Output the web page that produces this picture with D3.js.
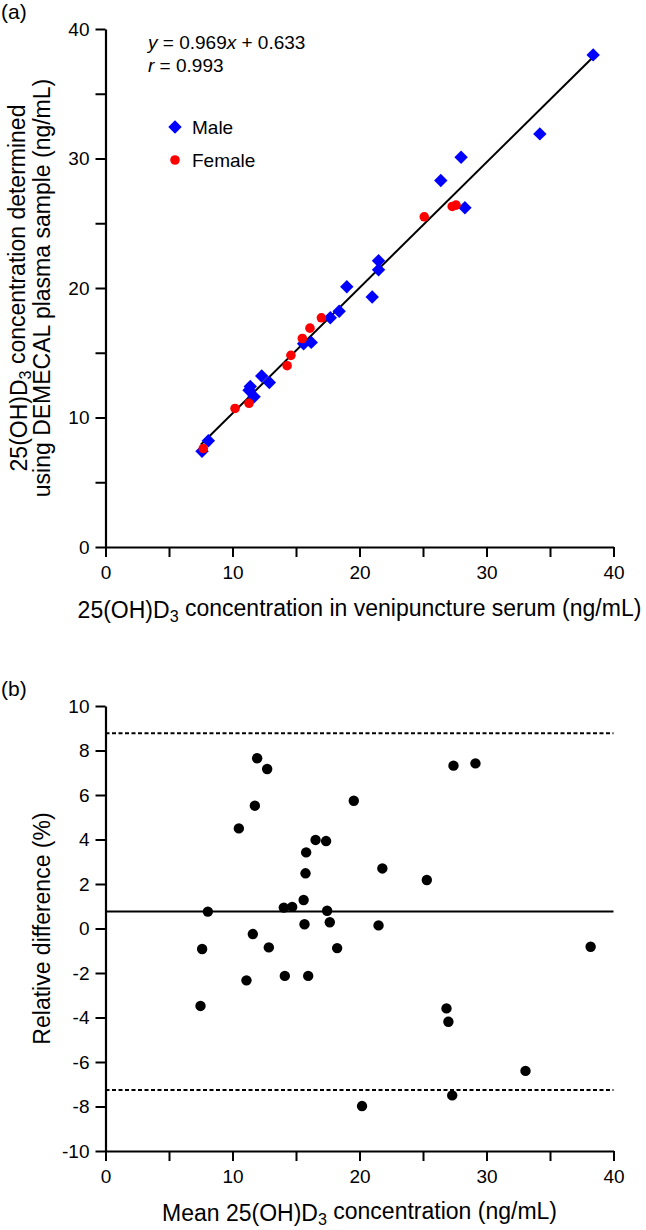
<!DOCTYPE html>
<html>
<head>
<meta charset="utf-8">
<script src="https://cdn.jsdelivr.net/npm/d3@7"></script>
<style>
  html, body { margin: 0; padding: 0; background: #fff; }
  svg { display: block; }
  text { font-family: "Liberation Sans", Arial, Helvetica, sans-serif; fill: #000; }
</style>
</head>
<body>
<svg id="chart" width="646" height="1230"></svg>
<script>
// ---------- Panel (a) data ----------
const maleX   = [38.4, 34.2, 28.0, 26.4, 28.3, 21.5, 21.5, 19.0, 21.0, 18.4, 17.7, 16.2, 15.6, 12.9, 12.3, 11.4, 11.3, 11.7, 8.1, 7.6];
const maleY   = [38.0, 31.9, 30.1, 28.3, 26.2, 22.1, 21.4, 20.1, 19.3, 18.2, 17.7, 15.8, 15.7, 12.7, 13.2, 12.4, 12.1, 11.6, 8.2, 7.4];
const femaleX = [25.1, 27.3, 27.6, 17.0, 16.1, 15.5, 14.6, 14.3, 11.3, 10.2, 7.7];
const femaleY = [25.5, 26.3, 26.4, 17.7, 16.9, 16.1, 14.8, 14.0, 11.1, 10.7, 7.6];
const regSlope = 0.969;
const regIntercept = 0.633;
const regRange = [7.5, 38.4];
const corrR = 0.993;
const axisTicksA = [0, 5, 10, 15, 20, 25, 30, 35, 40];
const axisLabelsA = [0, 10, 20, 30, 40];

// ---------- Panel (b) data ----------
const meanConc = [11.94, 12.73, 19.55, 27.4, 29.13, 11.76, 10.5, 16.54, 17.37, 15.8, 15.75, 21.8, 15.6, 14.04, 14.7, 8.06, 17.45, 15.67, 17.66, 21.5, 11.6, 7.61, 12.86, 18.24, 11.1, 14.12, 15.96, 7.48, 25.3, 38.2, 26.85, 27.0, 20.2, 27.3, 33.07];
const relDiff  = [7.65, 7.17, 5.74, 7.32, 7.42, 5.52, 4.5, 3.98, 3.93, 3.42, 2.48, 2.7, 1.28, 0.94, 0.97, 0.76, 0.8, 0.19, 0.28, 0.14, -0.25, -0.92, -0.85, -0.88, -2.33, -2.13, -2.13, -3.48, 2.18, -0.82, -3.59, -4.19, -7.98, -7.5, -6.4];
const meanDiff = 0.76;
const upperLoA = 8.77;
const lowerLoA = -7.26;
const yTicksB = [-10, -8, -6, -4, -2, 0, 2, 4, 6, 8, 10];

const svg = d3.select("#chart");

function styleAxis(g) {
  g.select(".domain").attr("stroke", "#000").attr("stroke-width", 2.2);
  g.selectAll(".tick line").attr("stroke", "#000").attr("stroke-width", 2);
  g.selectAll(".tick text").attr("font-size", 19).attr("fill", "#000")
    .attr("font-family", '"Liberation Sans", Arial, sans-serif');
}

// ================= Panel (a) =================
const xA = d3.scaleLinear().domain([0, 40]).range([105.5, 613.5]);
const yA = d3.scaleLinear().domain([0, 40]).range([547, 29]);

svg.append("g").attr("transform", `translate(0,${yA(0)})`)
  .call(d3.axisBottom(xA).tickValues(axisTicksA).tickSize(10).tickSizeOuter(0).tickPadding(9)
    .tickFormat(d => axisLabelsA.includes(d) ? String(d) : ""))
  .call(styleAxis);
svg.append("g").attr("transform", `translate(${xA(0)},0)`)
  .call(d3.axisLeft(yA).tickValues(axisTicksA).tickSize(10).tickSizeOuter(0).tickPadding(6)
    .tickFormat(d => axisLabelsA.includes(d) ? String(d) : ""))
  .call(styleAxis);

// regression line
const lineA = d3.line().x(d => xA(d)).y(d => yA(regSlope * d + regIntercept));
svg.append("path").attr("d", lineA(regRange)).attr("fill", "none")
  .attr("stroke", "#000").attr("stroke-width", 2);

const diamond = d3.symbol().type(d3.symbolSquare).size(90);
const circ = d3.symbol().type(d3.symbolCircle).size(72);

svg.append("g").selectAll("path").data(maleX.map((x, i) => [x, maleY[i]]))
  .join("path").attr("d", diamond)
  .attr("transform", d => `translate(${xA(d[0])},${yA(d[1])}) rotate(45)`)
  .attr("fill", "#0000ff");
svg.append("g").selectAll("path").data(femaleX.map((x, i) => [x, femaleY[i]]))
  .join("path").attr("d", circ)
  .attr("transform", d => `translate(${xA(d[0])},${yA(d[1])})`)
  .attr("fill", "#ff0000");

// equation
const eq = svg.append("text").attr("x", 148).attr("y", 49).attr("font-size", 19);
eq.append("tspan").attr("font-style", "italic").text("y");
eq.append("tspan").text(" = " + regSlope.toFixed(3));
eq.append("tspan").attr("font-style", "italic").text("x");
eq.append("tspan").text(" + " + regIntercept.toFixed(3));
const rt = svg.append("text").attr("x", 148).attr("y", 71.5).attr("font-size", 19);
rt.append("tspan").attr("font-style", "italic").text("r");
rt.append("tspan").text(" = " + corrR.toFixed(3));

// legend
svg.append("path").attr("d", diamond).attr("transform", "translate(175,127) rotate(45)").attr("fill", "#0000ff");
svg.append("text").attr("x", 192).attr("y", 134).attr("font-size", 19).text("Male");
svg.append("path").attr("d", circ).attr("transform", "translate(175,160)").attr("fill", "#ff0000");
svg.append("text").attr("x", 192).attr("y", 167).attr("font-size", 19).text("Female");

// panel label
svg.append("text").attr("x", 1).attr("y", 19).attr("font-size", 21).text("(a)");

// x title (a)
function withSub(sel, before, sub, after) {
  sel.append("tspan").text(before);
  sel.append("tspan").attr("font-size", "70%").attr("dy", "0.25em").text(sub);
  sel.append("tspan").attr("dy", "-0.25em").text(after);
}
const xtA = svg.append("text").attr("x", (xA(0) + xA(40)) / 2).attr("y", 618)
  .attr("text-anchor", "middle").attr("font-size", 23);
withSub(xtA, "25(OH)D", "3", " concentration in venipuncture serum (ng/mL)");

// y title (a), two lines
const cyA = (yA(0) + yA(40)) / 2;
const yt1 = svg.append("text").attr("transform", `translate(27,${cyA}) rotate(-90)`)
  .attr("text-anchor", "middle").attr("font-size", 23);
withSub(yt1, "25(OH)D", "3", " concentration determined");
svg.append("text").attr("transform", `translate(50,${cyA}) rotate(-90)`)
  .attr("text-anchor", "middle").attr("font-size", 23)
  .text("using DEMECAL plasma sample (ng/mL)");

// ================= Panel (b) =================
const xB = d3.scaleLinear().domain([0, 40]).range([105.5, 613.5]);
const yB = d3.scaleLinear().domain([-10, 10]).range([1151, 706]);

svg.append("g").attr("transform", `translate(0,${yB(-10)})`)
  .call(d3.axisBottom(xB).tickValues(axisTicksA).tickSize(10).tickSizeOuter(0).tickPadding(9)
    .tickFormat(d => axisLabelsA.includes(d) ? String(d) : ""))
  .call(styleAxis);
svg.append("g").attr("transform", `translate(${xB(0)},0)`)
  .call(d3.axisLeft(yB).tickValues(yTicksB).tickSize(10).tickSizeOuter(0).tickPadding(6)
    .tickFormat(d => String(d)))
  .call(styleAxis);

// reference lines
[[upperLoA, "4,2.5"], [lowerLoA, "4,2.5"], [meanDiff, null]].forEach(([v, dash]) => {
  const l = svg.append("line").attr("x1", xB(0)).attr("x2", xB(40))
    .attr("y1", yB(v)).attr("y2", yB(v)).attr("stroke", "#000").attr("stroke-width", 2);
  if (dash) l.attr("stroke-dasharray", dash);
});

svg.append("g").selectAll("circle").data(meanConc.map((x, i) => [x, relDiff[i]]))
  .join("circle").attr("cx", d => xB(d[0])).attr("cy", d => yB(d[1])).attr("r", 5.2)
  .attr("fill", "#000");

svg.append("text").attr("x", 1).attr("y", 696).attr("font-size", 21).text("(b)");

const xtB = svg.append("text").attr("x", (xB(0) + xB(40)) / 2).attr("y", 1221)
  .attr("text-anchor", "middle").attr("font-size", 23);
withSub(xtB, "Mean 25(OH)D", "3", " concentration (ng/mL)");

svg.append("text").attr("transform", `translate(50,${(yB(-10) + yB(10)) / 2}) rotate(-90)`)
  .attr("text-anchor", "middle").attr("font-size", 23).text("Relative difference (%)");
</script>
</body>
</html>
